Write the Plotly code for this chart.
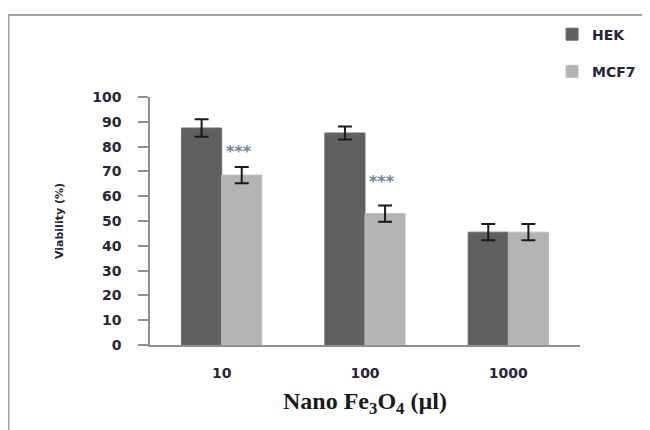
import plotly.graph_objects as go

# ---- data ----
categories = ["10", "100", "1000"]
hek_values = [87.5, 85.5, 45.5]
hek_errors = [3.5, 2.6, 3.3]
mcf7_values = [68.5, 53.0, 45.5]
mcf7_errors = [3.3, 3.3, 3.3]
sig_labels = ["***", "***", ""]
sig_heights = [78, 66, None]
y_ticks = [0, 10, 20, 30, 40, 50, 60, 70, 80, 90, 100]

positions = list(range(len(categories)))

TICK_FONT = dict(family="DejaVu Sans", size=14, color="#262636", weight="bold")
AXIS_GRAY = "#8f8f8f"

fig = go.Figure()
fig.add_trace(go.Bar(
    name="HEK", x=positions, y=hek_values, legendgroup="a",
    marker=dict(color="#606060", line=dict(color="#6a6a6a", width=1)),
    error_y=dict(type="data", array=hek_errors, color="#1a1a1a", thickness=2, width=7),
))
fig.add_trace(go.Bar(
    name="MCF7", x=positions, y=mcf7_values, legendgroup="b",
    marker=dict(color="#b3b3b3", line=dict(color="#bcbcbc", width=1)),
    error_y=dict(type="data", array=mcf7_errors, color="#1a1a1a", thickness=2, width=7),
))

for pos, lab, h in zip(positions, sig_labels, sig_heights):
    if lab and h is not None:
        fig.add_annotation(x=pos, y=h, xref="x", yref="y", text=lab, showarrow=False,
                           xshift=17, font=dict(family="DejaVu Sans", size=16, color="#6d84a0", weight="bold"))

# outer frame of the original figure
fig.add_shape(type="rect", xref="paper", yref="paper",
              x0=-0.329, x1=1.6, y0=-0.6, y1=1.331,
              line=dict(color="#a3a3a3", width=2), fillcolor="rgba(0,0,0,0)", layer="below")

fig.update_layout(
    width=650, height=430,
    margin=dict(l=142, r=78, t=88, b=93),
    paper_bgcolor="white", plot_bgcolor="white",
    barmode="group", bargap=0.44, bargroupgap=0,
    showlegend=True,
    legend=dict(x=0.935, y=1.311, xanchor="left", yanchor="top",
                font=dict(family="DejaVu Sans", size=14, color="#262636", weight="bold"),
                tracegroupgap=16, bgcolor="rgba(0,0,0,0)"),
    xaxis=dict(range=[-0.5, len(categories) - 0.5], tickvals=positions, ticktext=categories,
               showline=True, linecolor=AXIS_GRAY, linewidth=1.5, ticks="",
               tickfont=TICK_FONT, ticklabelstandoff=14, showgrid=False, zeroline=False,
               title=dict(text="Nano Fe<sub>3</sub>O<sub>4</sub> (µl)", standoff=13,
                          font=dict(family="Liberation Serif", size=24, color="#1a1a1a", weight="bold"))),
    yaxis=dict(range=[0, 100], tickvals=y_ticks, showline=True, linecolor=AXIS_GRAY, linewidth=1.5,
               ticks="outside", ticklen=10, tickcolor=AXIS_GRAY, tickwidth=1.5,
               tickfont=TICK_FONT, ticklabelstandoff=14, showgrid=False, zeroline=False,
               title=dict(text="Viability (%)", standoff=26,
                          font=dict(family="DejaVu Sans", size=11, color="#262636", weight="bold"))),
)

fig.write_html("out.html")
